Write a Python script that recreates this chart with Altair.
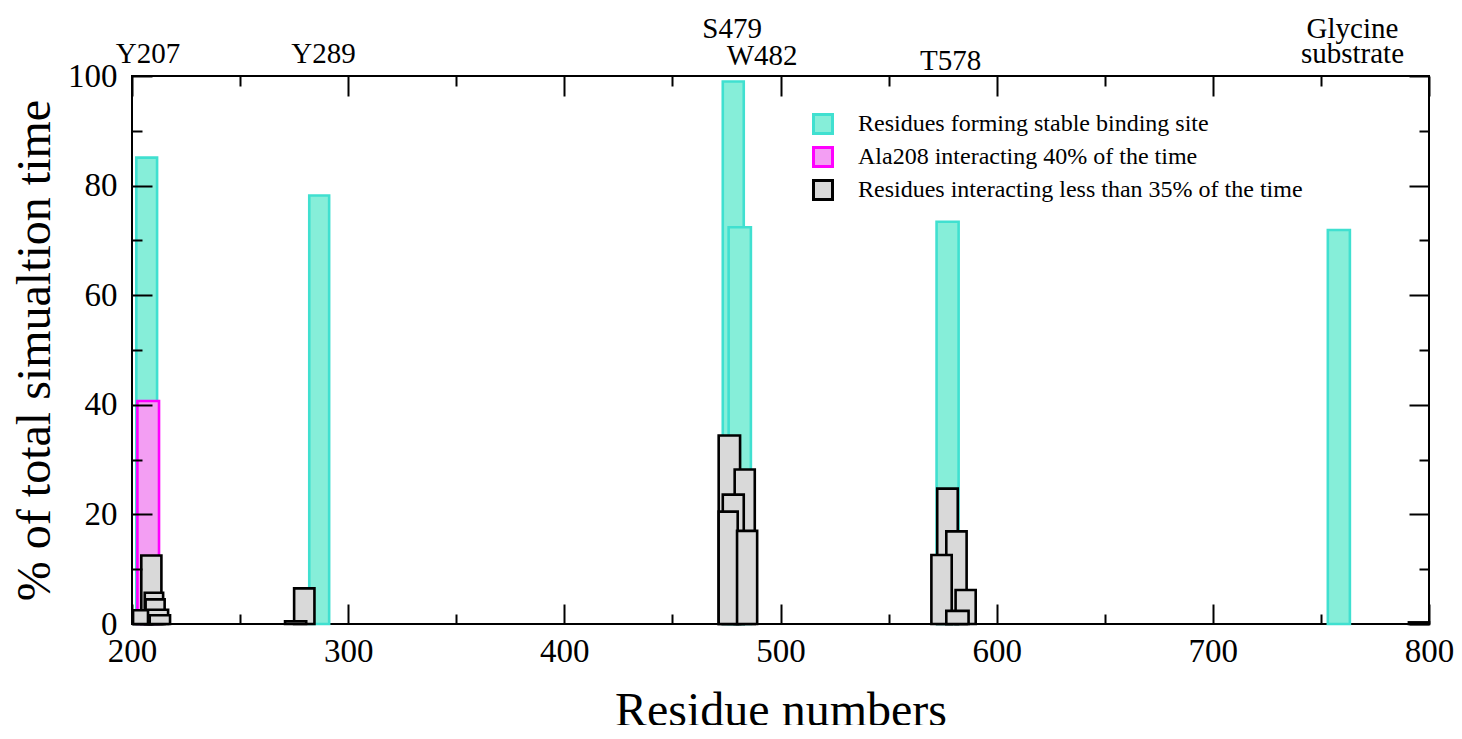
import altair as alt
import pandas as pd

# ---------------- data ----------------
GROUPS = [
    "Residues forming stable binding site",
    "Ala208 interacting 40% of the time",
    "Residues interacting less than 35% of the time",
]

stable_start = [202.0, 282.0, 473.3, 476.0, 572.2, 753.2]
stable_end = [211.6, 291.2, 483.0, 486.3, 582.4, 763.4]
stable_pct = [85.1, 78.2, 99.0, 72.4, 73.4, 71.9]

ala_start = [202.5]
ala_end = [212.5]
ala_pct = [40.7]

weak_start = [204.3, 205.9, 206.3, 200.5, 207.4, 208.2,
              275.0, 270.8,
              471.4, 478.8, 473.3, 471.4, 479.9,
              572.5, 576.7, 569.8, 581.0, 576.7,
              790.7]
weak_end = [213.6, 214.4, 215.1, 209.7, 216.7, 217.6,
            284.4, 280.6,
            481.3, 488.1, 483.0, 480.2, 489.2,
            582.0, 586.1, 579.2, 590.3, 587.0,
            800.0]
weak_pct = [12.5, 5.7, 4.5, 2.5, 2.6, 1.6,
            6.5, 0.5,
            34.4, 28.2, 23.6, 20.5, 17.0,
            24.7, 16.9, 12.6, 6.2, 2.4,
            0.3]

site_text = ["S479", "Glycine", "Y207", "Y289", "substrate", "W482", "T578"]
site_x = [477.6, 764.6, 207.4, 288.6, 764.6, 491.5, 578.7]
site_tier = ["a", "a", "b", "b", "b", "c", "d"]

x_major = [200, 300, 400, 500, 600, 700, 800]
x_minor = [250, 350, 450, 550, 650, 750]
y_major = [0, 20, 40, 60, 80, 100]
y_minor = [10, 30, 50, 70, 90]

# ---------------- styles ----------------
FILLS = ["#86eed9", "#f39ef3", "#d9d9d9"]
STROKES = ["#40E0D0", "#FF00FF", "#000000"]
FONT = "Liberation Serif"
W, H = 1297, 548
TIER_Y = {"a": -38.3, "b": -13.2, "c": -11.5, "d": -6.5}

rows = []
for g, ss, ee, pp in [
    (GROUPS[0], stable_start, stable_end, stable_pct),
    (GROUPS[1], ala_start, ala_end, ala_pct),
    (GROUPS[2], weak_start, weak_end, weak_pct),
]:
    for s, e, p in zip(ss, ee, pp):
        rows.append({"group": g, "start": s, "end": e, "pct": p})
bars_df = pd.DataFrame(rows)

labels_df = pd.DataFrame({"text": site_text, "x": site_x, "tier": site_tier})
frame_df = pd.DataFrame({"fx": [x_major[0], x_major[-1]], "fy": [y_major[0], y_major[-1]]})

xscale = alt.Scale(domain=[200, 800], nice=False, zero=False)
yscale = alt.Scale(domain=[0, 100], nice=False, zero=True)

legend = alt.Legend(
    title=None, orient="none", legendX=679, legendY=36,
    symbolType="square", symbolSize=361, symbolStrokeWidth=3, symbolOpacity=1,
    labelFont=FONT, labelFontSize=24, labelColor="black", labelOffset=23,
    rowPadding=1, padding=0, labelLimit=800,
)

bars = alt.Chart(bars_df).mark_bar(strokeWidth=2.6, opacity=1).encode(
    x=alt.X("start:Q", scale=xscale, axis=alt.Axis(
        orient="bottom", values=x_major, format="d", labelFont=FONT, labelFontSize=33,
        labelColor="black", tickSize=0, domain=False, grid=False, labelPadding=11,
        labelFlush=False, labelOverlap=False,
        title="Residue numbers", titleFont=FONT, titleFontSize=48,
        titleFontWeight="normal", titleColor="black", titlePadding=19)),
    x2="end:Q",
    y=alt.Y("pct:Q", scale=yscale, axis=alt.Axis(
        orient="left", values=y_major, format="d", labelFont=FONT, labelFontSize=33,
        labelColor="black", tickSize=0, domain=False, grid=False, labelPadding=15,
        labelFlush=False, labelOverlap=False,
        title="% of total simualtion time", titleFont=FONT, titleFontSize=48,
        titleFontWeight="normal", titleColor="black", titlePadding=8)),
    y2=alt.datum(0),
    fill=alt.Fill("group:N", scale=alt.Scale(domain=GROUPS, range=FILLS), legend=legend),
    stroke=alt.Stroke("group:N", scale=alt.Scale(domain=GROUPS, range=STROKES), legend=legend),
)


def tick_layer(xvals, yvals, xorient, yorient, size):
    common = dict(tickSize=size, offset=-size, labels=False, domain=False, grid=False,
                  title=None, tickColor="black", tickWidth=2, zindex=1)
    return alt.Chart(frame_df).mark_point(opacity=0).encode(
        x=alt.X("fx:Q", scale=xscale, axis=alt.Axis(orient=xorient, values=xvals, **common)),
        y=alt.Y("fy:Q", scale=yscale, axis=alt.Axis(orient=yorient, values=yvals, **common)),
    )


ticks = [
    tick_layer(x_major, y_major, "bottom", "left", 20),
    tick_layer(x_minor, y_minor, "bottom", "left", 10),
    tick_layer(x_major, y_major, "top", "right", 20),
    tick_layer(x_minor, y_minor, "top", "right", 10),
]

texts = []
for tier, ypx in TIER_Y.items():
    texts.append(
        alt.Chart(labels_df).transform_filter(alt.datum.tier == tier)
        .mark_text(font=FONT, fontSize=29, color="black", align="center", baseline="alphabetic")
        .encode(x=alt.X("x:Q", scale=xscale, axis=None), y=alt.value(ypx), text="text:N")
    )

chart = (
    alt.layer(bars, *ticks, *texts)
    .resolve_axis(x="independent", y="independent")
    .properties(
        width=W, height=H,
        autosize=alt.AutoSizeParams(type="none"),
        padding={"left": 124, "top": 68, "right": 25, "bottom": 101},
    )
    .configure_view(stroke="black", strokeWidth=2)
    .configure_axis(labelFont=FONT, titleFont=FONT, labelColor="black", titleColor="black")
    .configure_legend(labelFont=FONT)
    .configure_text(font=FONT)
)

chart.save("out.html", embed_options={"renderer": "svg", "actions": False})
